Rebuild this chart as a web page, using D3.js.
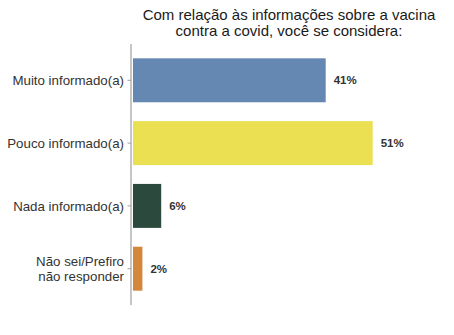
<!DOCTYPE html>
<html>
<head>
<meta charset="utf-8">
<script src="https://cdn.jsdelivr.net/npm/d3@7"></script>
<style>
  html, body { margin: 0; padding: 0; background: #fff; }
  svg { display: block; font-family: "Liberation Sans", Arial, sans-serif; }
</style>
</head>
<body>
<svg id="chart" width="454" height="335"></svg>
<script>
// Survey answers: how informed respondents feel about the covid vaccine
const categories = ["Muito informado(a)", "Pouco informado(a)", "Nada informado(a)", "Não sei/Prefiro\nnão responder"];
const values = [41, 51, 6, 2];
const colors = ["#6488B1", "#EAE052", "#2C493E", "#D4863A"];
const titleLines = ["Com relação às informações sobre a vacina", "contra a covid, você se considera:"];

const svg = d3.select("#chart");
const axisX = 131;

const x = d3.scaleLinear().domain([0, 1]).range([axisX + 2, axisX + 2 + 4.7]);
const y = d3.scaleBand().domain(categories).range([44, 305]).paddingInner(0.3).paddingOuter(0.228);

// title
svg.append("g")
  .selectAll("text")
  .data(titleLines)
  .join("text")
  .attr("x", 289)
  .attr("y", (d, i) => 20 + i * 15.5)
  .attr("text-anchor", "middle")
  .attr("font-size", 15)
  .attr("fill", "#1a1a1a")
  .text(d => d);

// bars
svg.append("g")
  .selectAll("rect")
  .data(values)
  .join("rect")
  .attr("x", x(0))
  .attr("y", (d, i) => y(categories[i]))
  .attr("width", d => x(d) - x(0))
  .attr("height", y.bandwidth())
  .attr("fill", (d, i) => colors[i]);

// value labels
svg.append("g")
  .selectAll("text")
  .data(values)
  .join("text")
  .attr("x", d => x(d) + 8)
  .attr("y", (d, i) => y(categories[i]) + y.bandwidth() / 2)
  .attr("dy", "0.35em")
  .attr("font-size", 11.5)
  .attr("font-weight", "bold")
  .attr("fill", "#333")
  .text(d => d + "%");

// category axis
const axis = svg.append("g");
axis.append("line")
  .attr("x1", axisX).attr("x2", axisX)
  .attr("y1", 44).attr("y2", 305)
  .attr("stroke", "#a0a0a0").attr("stroke-width", 1.2);

const ticks = axis.selectAll("g.tick")
  .data(categories)
  .join("g")
  .attr("class", "tick")
  .attr("transform", d => `translate(0,${y(d) + y.bandwidth() / 2})`);

ticks.append("line")
  .attr("x1", axisX - 3.5).attr("x2", axisX)
  .attr("stroke", "#a0a0a0");

ticks.each(function (d) {
  const lines = d.split("\n");
  const t = d3.select(this).append("text")
    .attr("text-anchor", "end")
    .attr("font-size", 13.3)
    .attr("fill", "#333");
  lines.forEach((ln, i) => {
    t.append("tspan")
      .attr("x", axisX - 7)
      .attr("y", (i - (lines.length - 1) / 2) * 15)
      .attr("dy", "0.35em")
      .text(ln);
  });
});
</script>
</body>
</html>
